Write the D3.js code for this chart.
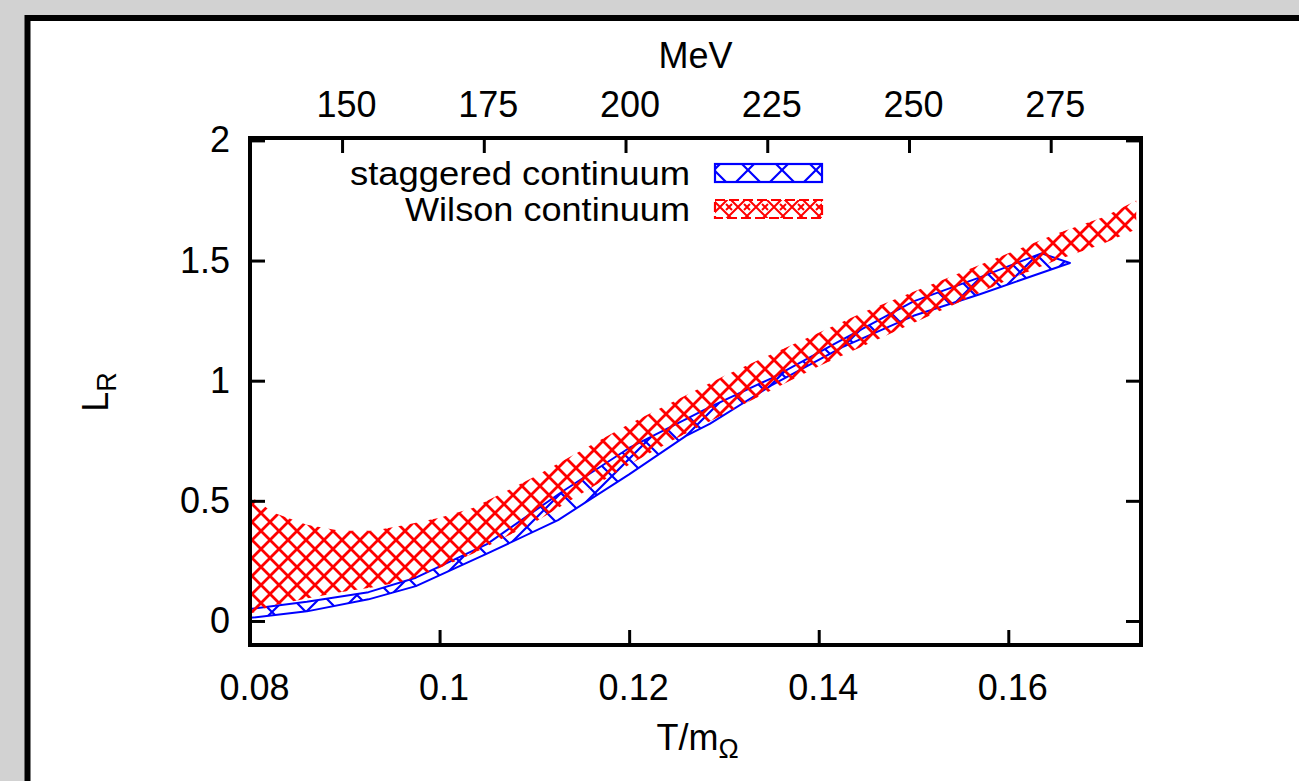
<!DOCTYPE html>
<html>
<head>
<meta charset="utf-8">
<script src="https://cdn.jsdelivr.net/npm/d3@7"></script>
<style>
  body { margin: 0; background: #d2d2d2; }
  svg { display: block; }
  text { font-family: "Liberation Sans", Arial, sans-serif; }
</style>
</head>
<body>
<div id="viz"></div>
<script>
let w = 1299;
let h = 781;

// data
let wilsonT     = [0.080, 0.0825, 0.086, 0.0895, 0.093, 0.0965, 0.100, 0.1035, 0.107, 0.110, 0.115, 0.120, 0.125, 0.130, 0.135, 0.140, 0.145, 0.150, 0.155, 0.160, 0.165, 0.170, 0.1735];
let wilsonUpper = [0.52, 0.45, 0.40, 0.375, 0.375, 0.40, 0.43, 0.47, 0.54, 0.60, 0.71, 0.82, 0.92, 1.02, 1.11, 1.20, 1.29, 1.37, 1.45, 1.53, 1.61, 1.68, 1.75];
let wilsonLower = [0.03, 0.065, 0.094, 0.12, 0.14, 0.167, 0.22, 0.28, 0.35, 0.41, 0.53, 0.65, 0.76, 0.86, 0.96, 1.06, 1.15, 1.24, 1.33, 1.42, 1.50, 1.57, 1.63];

let stagUpperT = [0.080, 0.086, 0.0925, 0.0975, 0.105, 0.113, 0.120, 0.1285, 0.135, 0.142, 0.150, 0.157, 0.1635, 0.1665];
let stagUpper  = [0.05, 0.08, 0.12, 0.18, 0.32, 0.54, 0.72, 0.89, 1.01, 1.16, 1.33, 1.43, 1.53, 1.49];
let stagLowerT = [0.080, 0.086, 0.0925, 0.0975, 0.105, 0.1125, 0.120, 0.126, 0.1285, 0.135, 0.1425, 0.150, 0.157, 0.1665];
let stagLower  = [0.013, 0.04, 0.09, 0.145, 0.28, 0.42, 0.61, 0.77, 0.82, 0.98, 1.14, 1.27, 1.36, 1.49];

let xTicks = [0.08, 0.1, 0.12, 0.14, 0.16];
let yTicks = [0, 0.5, 1, 1.5, 2];
let mevTicks = [150, 175, 200, 225, 250, 275];
let mOmega = 1672; // MeV
let legendLabels = ["staggered continuum", "Wilson continuum"];

let plotLeft = 250, plotRight = 1141, plotTop = 138, plotBottom = 645;

let svg = d3.select("#viz").append("svg")
  .attr("width", w)
  .attr("height", h);

// hatch patterns
let defs = svg.append("defs");
let pBlue = defs.append("pattern")
  .attr("id", "hatchBlue")
  .attr("patternUnits", "userSpaceOnUse")
  .attr("width", 34).attr("height", 34);
pBlue.append("path")
  .attr("d", "M0,0L34,34M0,34L34,0M-17,17L17,-17M17,51L51,17M-17,17L17,51M17,-17L51,17")
  .attr("stroke", "#0000ff").attr("stroke-width", 2.2).attr("fill", "none");

let pRed = defs.append("pattern")
  .attr("id", "hatchRed")
  .attr("patternUnits", "userSpaceOnUse")
  .attr("width", 18).attr("height", 18);
pRed.append("path")
  .attr("d", "M0,0L18,18M0,18L18,0M-4,4L4,-4M14,22L22,14M-4,14L4,22M14,-4L22,4")
  .attr("stroke", "#ff0000").attr("stroke-width", 2.8).attr("fill", "none");

let pRedSmall = defs.append("pattern")
  .attr("id", "hatchRedSmall")
  .attr("patternUnits", "userSpaceOnUse")
  .attr("width", 18).attr("height", 18);
pRedSmall.append("path")
  .attr("d", "M0,9L9,0L18,9L9,18Z M6,6L12,12M6,12L12,6")
  .attr("stroke", "#ff0000").attr("stroke-width", 2).attr("fill", "none");

// white panel with thick border
svg.append("rect")
  .attr("x", 27.5).attr("y", 18)
  .attr("width", 1400).attr("height", 900)
  .attr("fill", "white")
  .attr("stroke", "black")
  .attr("stroke-width", 6);

// scales
let xScale = d3.scaleLinear().domain([0.08, 0.174]).range([plotLeft, plotRight]);
let xMev = d3.scaleLinear().domain([0.08 * mOmega, 0.174 * mOmega]).range([plotLeft, plotRight]);
let yScale = d3.scaleLinear().domain([-0.1, 2.01]).range([plotBottom, plotTop]);

svg.append("clipPath").attr("id", "plotClip")
  .append("rect").attr("x", plotLeft).attr("y", plotTop)
  .attr("width", plotRight - plotLeft).attr("height", plotBottom - plotTop);

let plot = svg.append("g").attr("clip-path", "url(#plotClip)");

// staggered band: polygon of upper edge then lower edge reversed
let stagPts = stagUpperT.map((t, i) => [xScale(t), yScale(stagUpper[i])]);
for (let i = stagLowerT.length - 1; i >= 0; i--) {
  stagPts.push([xScale(stagLowerT[i]), yScale(stagLower[i])]);
}
plot.append("path")
  .attr("d", d3.line()(stagPts) + "Z")
  .attr("fill", "url(#hatchBlue)")
  .attr("stroke", "#0000ff")
  .attr("stroke-width", 2)
  .attr("stroke-linejoin", "round");

// Wilson band
let wilsonData = wilsonT.map((t, i) => ({ t: t, lo: wilsonLower[i], hi: wilsonUpper[i] }));
let areaMaker = d3.area()
  .x(d => xScale(d.t))
  .y0(d => yScale(d.lo))
  .y1(d => yScale(d.hi));
plot.append("path")
  .attr("d", areaMaker(wilsonData))
  .attr("fill", "url(#hatchRed)")
  .attr("stroke", "none");

// axes (ticks inward)
let axisB = d3.axisBottom(xScale).tickValues(xTicks).tickSize(-15).tickPadding(29)
  .tickFormat(d => String(+d.toFixed(2)));
let axisT = d3.axisTop(xMev).tickValues(mevTicks).tickSize(-15).tickPadding(21);
let axisL = d3.axisLeft(yScale).tickValues(yTicks).tickSize(-15).tickPadding(20)
  .tickFormat(d => String(d));
let axisR = d3.axisRight(yScale).tickValues(yTicks).tickSize(-15).tickFormat("");

function styleAxis(g) {
  g.select(".domain").remove();
  g.selectAll("line").attr("stroke", "black").attr("stroke-width", 3);
  g.selectAll("text")
    .attr("fill", "black")
    .style("font-family", "'Liberation Sans', Arial, sans-serif")
    .style("font-size", "36px");
}

svg.append("g").attr("transform", "translate(0," + plotBottom + ")").call(axisB).call(styleAxis)
  .selectAll("text").attr("dx", 4);
svg.append("g").attr("transform", "translate(0," + plotTop + ")").call(axisT).call(styleAxis)
  .selectAll("text").attr("dx", 4);
svg.append("g").attr("transform", "translate(" + plotLeft + ",0)").call(axisL).call(styleAxis);
svg.append("g").attr("transform", "translate(" + plotRight + ",0)").call(axisR).call(styleAxis);

// frame
svg.append("rect")
  .attr("x", plotLeft).attr("y", plotTop)
  .attr("width", plotRight - plotLeft).attr("height", plotBottom - plotTop)
  .attr("fill", "none")
  .attr("stroke", "black")
  .attr("stroke-width", 4);

// axis titles
svg.append("text")
  .attr("x", (plotLeft + plotRight) / 2)
  .attr("y", 68)
  .attr("text-anchor", "middle")
  .style("font-size", "36px")
  .text("MeV");

let xt = svg.append("text")
  .attr("x", (plotLeft + plotRight) / 2 + 2)
  .attr("y", 750)
  .attr("text-anchor", "middle")
  .style("font-size", "36px");
xt.append("tspan").text("T/m");
xt.append("tspan").attr("dy", 8).style("font-size", "27px").text("Ω");

let yt = svg.append("text")
  .attr("transform", "translate(108,392) rotate(-90)")
  .attr("text-anchor", "middle")
  .style("font-size", "36px");
yt.append("tspan").text("L");
yt.append("tspan").attr("dy", 8).style("font-size", "27px").text("R");

// legend
let legendFills = ["url(#hatchBlue)", "url(#hatchRedSmall)"];
let legendStrokes = ["#0000ff", "#ff0000"];
let legendY = [173, 209];
let legend = svg.append("g");
legendLabels.forEach((label, i) => {
  legend.append("text")
    .attr("x", 690)
    .attr("y", legendY[i])
    .attr("dy", "0.35em")
    .attr("text-anchor", "end")
    .style("font-size", "33px")
    .attr("textLength", i == 0 ? 340 : 285)
    .attr("lengthAdjust", "spacingAndGlyphs")
    .text(label);
  legend.append("rect")
    .attr("x", 715).attr("y", legendY[i] - 9)
    .attr("width", 107).attr("height", 18)
    .attr("fill", legendFills[i])
    .attr("stroke", legendStrokes[i])
    .attr("stroke-width", 2.2)
    .attr("stroke-dasharray", i == 1 ? "10,4" : null);
});
</script>
</body>
</html>
